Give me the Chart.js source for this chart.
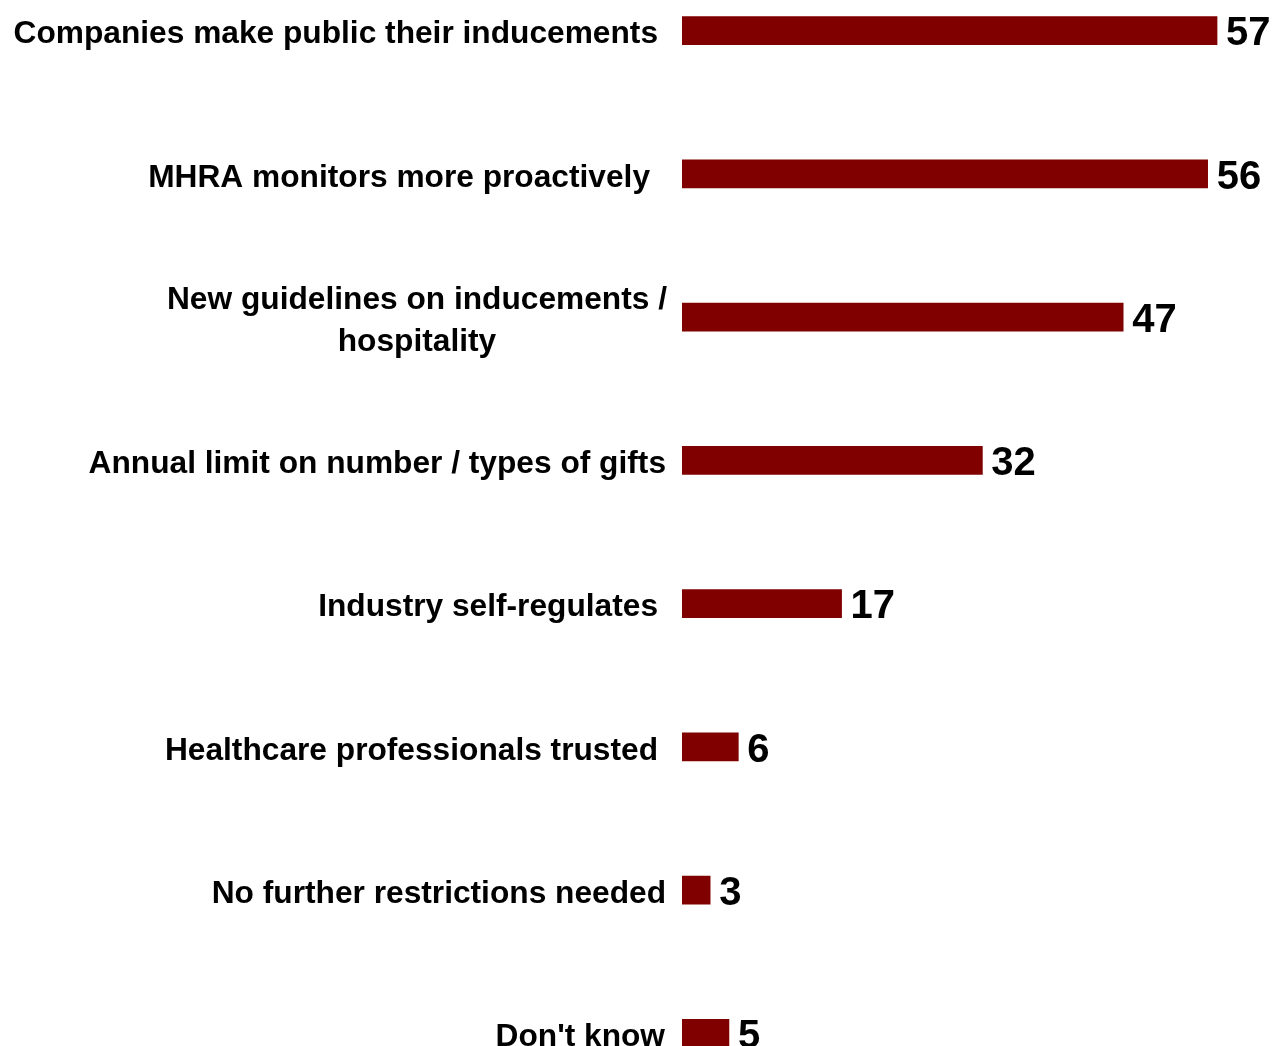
<!DOCTYPE html>
<html>
<head>
<meta charset="utf-8">
<script src="https://cdn.jsdelivr.net/npm/chart.js@4/dist/chart.umd.min.js"></script>
<style>
  html, body { margin: 0; padding: 0; background: #ffffff; overflow: hidden; width: 1272px; height: 1046px; }
  #wrap { position: absolute; left: 0; top: -41px; width: 1272px; height: 1146px; }
</style>
</head>
<body>
<div id="wrap"><canvas id="chart" width="1272" height="1146"></canvas></div>
<script>
// Survey responses: which measures respondents favour (%)
const categories = [
  ['Companies make public their inducements'],
  ['MHRA monitors more proactively'],
  ['New guidelines on inducements /', 'hospitality'],
  ['Annual limit on number / types of gifts'],
  ['Industry self-regulates'],
  ['Healthcare professionals trusted'],
  ['No further restrictions needed'],
  ["Don't know"]
];
const values = [57, 56, 47, 32, 17, 6, 3, 5];

// Where each category label block ends, measured left of the plot area (px)
const labelGap = [24, 32, 15, 16, 24, 24, 16, 17];

const BAR_COLOR = '#800000';
const FONT_FAMILY = '"Liberation Sans", Arial, Helvetica, sans-serif';
const LABEL_SIZE = 31.7;
const VALUE_SIZE = 40;

// Draws the category names to the left of the plot area and the value next to each bar
const labelPlugin = {
  id: 'barLabels',
  afterDatasetsDraw(chart) {
    const ctx = chart.ctx;
    const xs = chart.scales.x;
    const ys = chart.scales.y;
    const area = chart.chartArea;
    ctx.save();
    ctx.fillStyle = '#000000';
    ctx.textBaseline = 'alphabetic';

    // category labels (multi-line labels are centred on their widest line)
    ctx.font = 'bold ' + LABEL_SIZE + 'px ' + FONT_FAMILY;
    const capHalf = LABEL_SIZE * 0.716 / 2;
    const lineH = 42;
    categories.forEach((lines, i) => {
      const right = area.left - labelGap[i];
      const cy = ys.getPixelForValue(i) + 1.5;
      const maxW = Math.max(...lines.map(l => ctx.measureText(l).width));
      ctx.textAlign = 'center';
      lines.forEach((line, j) => {
        const y = cy + (j - (lines.length - 1) / 2) * lineH;
        ctx.fillText(line, right - maxW / 2, y + capHalf);
      });
    });

    // value labels
    ctx.font = 'bold ' + VALUE_SIZE + 'px ' + FONT_FAMILY;
    ctx.textAlign = 'left';
    const digitHalf = VALUE_SIZE * 0.716 / 2;
    values.forEach((v, i) => {
      const x = xs.getPixelForValue(v) + 9;
      const y = ys.getPixelForValue(i) + 0.5;
      ctx.fillText(String(v), x, y + digitHalf);
    });
    ctx.restore();
  }
};

new Chart(document.getElementById('chart'), {
  type: 'bar',
  data: {
    labels: categories,
    datasets: [{
      data: values,
      backgroundColor: BAR_COLOR,
      borderWidth: 0,
      barThickness: 28
    }]
  },
  options: {
    indexAxis: 'y',
    responsive: false,
    maintainAspectRatio: false,
    animation: false,
    layout: { padding: { left: 682, right: 26.8, top: 0, bottom: 0 } },
    plugins: {
      legend: { display: false },
      tooltip: { enabled: false }
    },
    scales: {
      x: { display: false, min: 0, max: 60 },
      y: { display: false, offset: true }
    }
  },
  plugins: [labelPlugin]
});
</script>
</body>
</html>
